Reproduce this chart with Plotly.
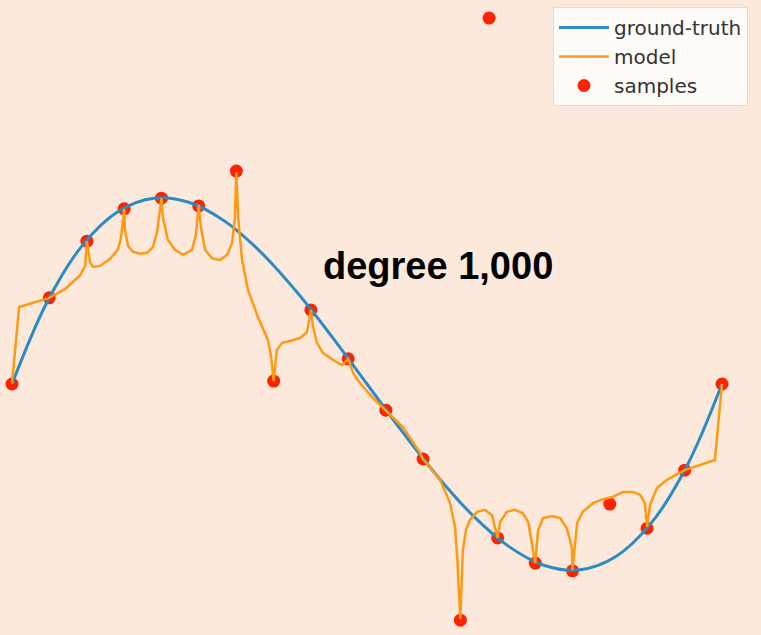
import plotly.graph_objects as go

# ground-truth curve
gt_x = [-1.0, -0.9, -0.8, -0.7, -0.6, -0.5, -0.4, -0.3, -0.2, -0.1, 0.0,
        0.1, 0.2, 0.3, 0.4, 0.5, 0.6, 0.7, 0.8, 0.9, 1.0]
gt_y = [0.0, 0.171, 0.288, 0.357, 0.384, 0.375, 0.336, 0.273, 0.192, 0.099, 0.0,
        -0.099, -0.192, -0.273, -0.336, -0.375, -0.384, -0.357, -0.288, -0.171, 0.0]

# model (degree 1,000 fit) trace
model_x = [-1.0, -0.980, -0.895, -0.851, -0.808, -0.794, -0.789, -0.780, -0.772, -0.752,
           -0.724, -0.701, -0.693, -0.684, -0.682, -0.673, -0.659, -0.639, -0.620, -0.603,
           -0.592, -0.579, -0.575, -0.561, -0.541, -0.518, -0.493, -0.482, -0.474, -0.468,
           -0.456, -0.437, -0.414, -0.394, -0.380, -0.372, -0.368, -0.363, -0.352, -0.335,
           -0.307, -0.279, -0.270, -0.263, -0.254, -0.239, -0.217, -0.189, -0.169, -0.158,
           -0.152, -0.141, -0.124, -0.096, -0.070, -0.053, -0.039, -0.020, 0.017, 0.053,
           0.101, 0.144, 0.158, 0.206, 0.234, 0.248, 0.254, 0.263, 0.270, 0.279,
           0.290, 0.310, 0.332, 0.352, 0.368, 0.375, 0.394, 0.417, 0.439, 0.454,
           0.468, 0.474, 0.482, 0.496, 0.521, 0.544, 0.563, 0.577, 0.579, 0.592,
           0.608, 0.637, 0.665, 0.693, 0.721, 0.749, 0.769, 0.783, 0.789, 0.797,
           0.817, 0.845, 0.895, 0.980, 1.0]
model_y = [0.0, 0.159, 0.178, 0.196, 0.225, 0.244, 0.295, 0.252, 0.242, 0.244,
           0.258, 0.279, 0.302, 0.362, 0.318, 0.285, 0.273, 0.269, 0.271, 0.283,
           0.312, 0.384, 0.345, 0.298, 0.277, 0.267, 0.277, 0.308, 0.370, 0.324,
           0.277, 0.260, 0.256, 0.267, 0.291, 0.345, 0.438, 0.345, 0.256, 0.194,
           0.138, 0.091, 0.056, 0.006, 0.070, 0.085, 0.089, 0.095, 0.107, 0.153,
           0.118, 0.085, 0.064, 0.050, 0.039, 0.052, 0.023, 0.002, -0.029, -0.054,
           -0.089, -0.136, -0.155, -0.198, -0.246, -0.295, -0.357, -0.486, -0.343, -0.302,
           -0.281, -0.264, -0.260, -0.271, -0.318, -0.285, -0.264, -0.260, -0.267, -0.285,
           -0.343, -0.370, -0.302, -0.277, -0.273, -0.277, -0.298, -0.337, -0.384, -0.287,
           -0.264, -0.246, -0.238, -0.233, -0.223, -0.223, -0.229, -0.246, -0.295, -0.250,
           -0.215, -0.198, -0.178, -0.157, 0.0]

# noisy samples
samples_x = [-1.0, -0.895, -0.789, -0.684, -0.579, -0.474, -0.368, -0.263, -0.158, -0.053,
             0.053, 0.158, 0.263, 0.368, 0.474, 0.579, 0.684, 0.789, 0.895, 1.0, 0.344]
samples_y = [0.0, 0.178, 0.295, 0.362, 0.384, 0.368, 0.440, 0.006, 0.153, 0.052,
             -0.054, -0.155, -0.488, -0.318, -0.370, -0.386, -0.248, -0.298, -0.178, 0.0, 0.756]

BG = "#fde9dc"

fig = go.Figure()
fig.add_trace(go.Scatter(x=samples_x, y=samples_y, mode="markers", name="samples",
                         marker=dict(color="#ff2200", size=13, line=dict(width=0)),
                         legendrank=3, legendgroup="s"))
fig.add_trace(go.Scatter(x=gt_x, y=gt_y, mode="lines", name="ground-truth",
                         line=dict(color="#2b8cc4", width=3, shape="spline"),
                         legendrank=1, legendgroup="g"))
fig.add_trace(go.Scatter(x=model_x, y=model_y, mode="lines", name="model",
                         line=dict(color="#ff9914", width=2.5),
                         legendrank=2, legendgroup="m"))

fig.add_annotation(text="<b>degree 1,000</b>", x=438 / 761, y=1 - 266 / 635,
                   xref="paper", yref="paper", showarrow=False,
                   font=dict(family="Liberation Sans, Arial", size=38, color="black"))

fig.update_layout(
    width=761, height=635,
    margin=dict(l=0, r=0, t=0, b=0),
    paper_bgcolor=BG, plot_bgcolor=BG,
    xaxis=dict(visible=False, range=[-1.0338, 1.1099]),
    yaxis=dict(visible=False, range=[-0.5186, 0.7934]),
    showlegend=True,
    legend=dict(x=553 / 761, y=1 - 7 / 635, xanchor="left", yanchor="top",
                bgcolor="rgba(255,255,255,0.8)", bordercolor="#e2dcd8", borderwidth=1,
                font=dict(family="DejaVu Sans", size=20, color="#333333"),
                itemwidth=50, tracegroupgap=0),
)

fig.write_html("out.html")
